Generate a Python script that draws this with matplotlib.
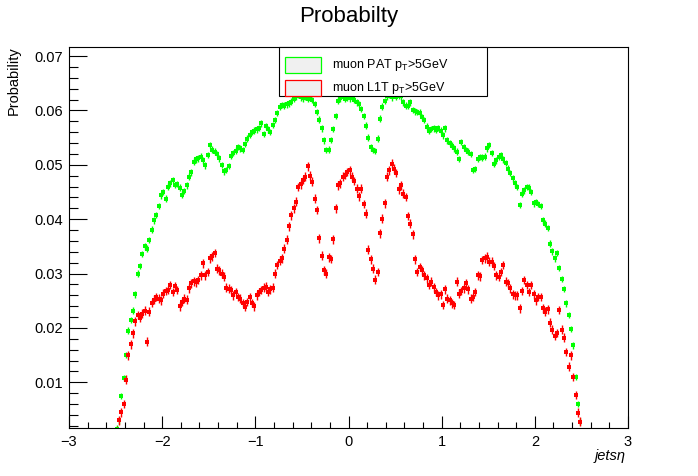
import numpy as np
import matplotlib
matplotlib.use("Agg")
import matplotlib.pyplot as plt
from matplotlib.patches import Rectangle
from matplotlib.ticker import MultipleLocator

plt.rcParams['font.family'] = ['Liberation Sans', 'DejaVu Sans']
plt.rcParams['mathtext.fontset'] = 'custom'
plt.rcParams['mathtext.rm'] = 'Liberation Sans'
plt.rcParams['mathtext.it'] = 'Liberation Sans:italic'

# histogram binning: 200 bins of 0.025 from -2.5 to 2.5
eta_lo = -2.5
eta_hi = 2.5
n_bins = 200

# muon PAT pT>5GeV (green)
pat_prob = [
    0.0015, 0.0030, 0.0075, 0.0108, 0.0150, 0.0195, 0.0215, 0.0232, 0.0262, 0.0300,
    0.0314, 0.0336, 0.0350, 0.0346, 0.0362, 0.0381, 0.0398, 0.0408, 0.0424, 0.0444,
    0.0450, 0.0438, 0.0460, 0.0466, 0.0472, 0.0463, 0.0465, 0.0458, 0.0445, 0.0452,
    0.0462, 0.0478, 0.0486, 0.0506, 0.0510, 0.0512, 0.0515, 0.0508, 0.0499, 0.0518,
    0.0536, 0.0528, 0.0524, 0.0520, 0.0512, 0.0500, 0.0488, 0.0490, 0.0498, 0.0516,
    0.0522, 0.0526, 0.0533, 0.0530, 0.0527, 0.0538, 0.0548, 0.0555, 0.0560, 0.0563,
    0.0565, 0.0568, 0.0576, 0.0557, 0.0571, 0.0565, 0.0560, 0.0573, 0.0582, 0.0595,
    0.0607, 0.0610, 0.0609, 0.0611, 0.0613, 0.0616, 0.0621, 0.0626, 0.0628, 0.0624,
    0.0622, 0.0626, 0.0621, 0.0623, 0.0619, 0.0612, 0.0597, 0.0583, 0.0567, 0.0545,
    0.0527, 0.0528, 0.0546, 0.0566, 0.0590, 0.0618, 0.0622, 0.0625, 0.0621, 0.0624,
    0.0622, 0.0625, 0.0620, 0.0615, 0.0612, 0.0603, 0.0590, 0.0572, 0.0550, 0.0532,
    0.0527, 0.0525, 0.0548, 0.0585, 0.0607, 0.0617, 0.0626, 0.0628, 0.0624, 0.0628,
    0.0625, 0.0627, 0.0626, 0.0615, 0.0609, 0.0608, 0.0615, 0.0601, 0.0598, 0.0597,
    0.0596, 0.0588, 0.0582, 0.0570, 0.0563, 0.0566, 0.0567, 0.0564, 0.0568, 0.0563,
    0.0554, 0.0567, 0.0545, 0.0540, 0.0535, 0.0530, 0.0524, 0.0511, 0.0542, 0.0533,
    0.0527, 0.0524, 0.0520, 0.0490, 0.0492, 0.0511, 0.0514, 0.0513, 0.0515, 0.0530,
    0.0536, 0.0522, 0.0502, 0.0508, 0.0514, 0.0518, 0.0510, 0.0503, 0.0493, 0.0485,
    0.0475, 0.0466, 0.0459, 0.0426, 0.0447, 0.0453, 0.0459, 0.0458, 0.0450, 0.0429,
    0.0432, 0.0428, 0.0424, 0.0398, 0.0392, 0.0384, 0.0355, 0.0341, 0.0328, 0.0338,
    0.0310, 0.0290, 0.0272, 0.0245, 0.0224, 0.0198, 0.0168, 0.0110, 0.0060, 0.0028,
]

# muon L1T pT>5GeV (red)
l1t_prob = [
    0.0012, 0.0030, 0.0045, 0.0060, 0.0105, 0.0150, 0.0170, 0.0190, 0.0212, 0.0224,
    0.0219, 0.0226, 0.0232, 0.0175, 0.0230, 0.0246, 0.0252, 0.0257, 0.0254, 0.0251,
    0.0263, 0.0268, 0.0270, 0.0279, 0.0266, 0.0277, 0.0270, 0.0240, 0.0248, 0.0254,
    0.0252, 0.0273, 0.0282, 0.0286, 0.0284, 0.0288, 0.0297, 0.0319, 0.0297, 0.0303,
    0.0328, 0.0332, 0.0338, 0.0309, 0.0306, 0.0300, 0.0294, 0.0274, 0.0272, 0.0270,
    0.0260, 0.0266, 0.0257, 0.0254, 0.0246, 0.0239, 0.0248, 0.0257, 0.0246, 0.0240,
    0.0260, 0.0266, 0.0270, 0.0274, 0.0276, 0.0266, 0.0271, 0.0274, 0.0300, 0.0316,
    0.0324, 0.0328, 0.0346, 0.0362, 0.0387, 0.0407, 0.0420, 0.0432, 0.0459, 0.0464,
    0.0472, 0.0478, 0.0497, 0.0480, 0.0469, 0.0438, 0.0417, 0.0365, 0.0333, 0.0306,
    0.0300, 0.0330, 0.0327, 0.0363, 0.0420, 0.0462, 0.0466, 0.0478, 0.0481, 0.0487,
    0.0490, 0.0478, 0.0470, 0.0456, 0.0442, 0.0456, 0.0428, 0.0410, 0.0344, 0.0326,
    0.0309, 0.0289, 0.0303, 0.0374, 0.0401, 0.0429, 0.0478, 0.0490, 0.0502, 0.0493,
    0.0485, 0.0455, 0.0462, 0.0447, 0.0441, 0.0406, 0.0392, 0.0372, 0.0326, 0.0303,
    0.0312, 0.0306, 0.0297, 0.0291, 0.0279, 0.0285, 0.0275, 0.0266, 0.0260, 0.0262,
    0.0242, 0.0271, 0.0254, 0.0251, 0.0245, 0.0242, 0.0285, 0.0263, 0.0268, 0.0273,
    0.0282, 0.0271, 0.0254, 0.0257, 0.0266, 0.0297, 0.0295, 0.0325, 0.0328, 0.0331,
    0.0322, 0.0322, 0.0314, 0.0297, 0.0294, 0.0303, 0.0316, 0.0285, 0.0282, 0.0273,
    0.0262, 0.0260, 0.0260, 0.0236, 0.0268, 0.0288, 0.0279, 0.0266, 0.0279, 0.0262,
    0.0251, 0.0257, 0.0257, 0.0236, 0.0230, 0.0234, 0.0210, 0.0197, 0.0185, 0.0191,
    0.0233, 0.0197, 0.0182, 0.0156, 0.0129, 0.0150, 0.0110, 0.0077, 0.0044, 0.0028,
]

pat_err = 0.0006
l1t_err = 0.0008

legend_labels = [r'muon PAT $\mathrm{p_{T}}$>5GeV', r'muon L1T $\mathrm{p_{T}}$>5GeV']

edges = np.linspace(eta_lo, eta_hi, n_bins + 1)
centers = 0.5 * (edges[:-1] + edges[1:])

fig = plt.figure(figsize=(6.98, 4.76), dpi=100)
ax = fig.add_axes([0.0989, 0.1002, 0.8008, 0.8004])

ax.errorbar(centers, pat_prob, yerr=pat_err, fmt='s', ms=3.0, mew=0,
            color='#00ff00', ecolor='#00ff00', elinewidth=1.0, capsize=2.3, capthick=1.0)
ax.errorbar(centers, l1t_prob, yerr=l1t_err, fmt='s', ms=3.0, mew=0,
            color='#ff0000', ecolor='#ff0000', elinewidth=1.0, capsize=2.3, capthick=1.0)

ax.set_xlim(-3, 3)
ax.set_ylim(0.00155, 0.0716)

ax.xaxis.set_major_locator(MultipleLocator(1))
ax.xaxis.set_minor_locator(MultipleLocator(0.2))
ax.yaxis.set_major_locator(MultipleLocator(0.01))
ax.yaxis.set_minor_locator(MultipleLocator(0.002))
ax.set_yticks([0.01, 0.02, 0.03, 0.04, 0.05, 0.06, 0.07])
ax.set_yticklabels(['0.01', '0.02', '0.03', '0.04', '0.05', '0.06', '0.07'])

ax.tick_params(axis='x', which='major', direction='in', length=8.5, width=0.8,
               labelsize=10.5, pad=5, top=False)
ax.tick_params(axis='x', which='minor', direction='in', length=4.2, width=0.8, top=False)
ax.tick_params(axis='y', which='major', direction='in', length=12.7, width=0.8,
               labelsize=10.5, pad=4, right=False)
ax.tick_params(axis='y', which='minor', direction='in', length=6.6, width=0.8, right=False)
for s in ax.spines.values():
    s.set_linewidth(0.8)

# legend box drawn by hand, as in ROOT TLegend
ax.add_patch(Rectangle((0.3757, 0.8735), 0.3726, 0.1265, transform=ax.transAxes,
                       facecolor='white', edgecolor='black', lw=0.8, zorder=5, clip_on=False))
leg_colors = ['#00ff00', '#ff0000']
leg_y = [0.9525, 0.8925]
for lab, col, yy in zip(legend_labels, leg_colors, leg_y):
    ax.add_patch(Rectangle((0.3864, yy - 0.021), 0.0637, 0.042, transform=ax.transAxes,
                           facecolor='#f0f0f0', edgecolor=col, lw=0.9, zorder=6))
    ax.text(0.4700, yy, lab, transform=ax.transAxes, fontsize=9, va='center',
            ha='left', zorder=7)

fig.text(0.5, 0.965, 'Probabilty', ha='center', va='center', fontsize=16)
fig.text(0.020, 0.902, 'Probability', rotation=90, ha='center', va='top', fontsize=10.5)
fig.text(0.897, 0.043, 'jets\u03b7', ha='right', va='center', fontsize=10.5, style='italic')

fig.savefig('out.png', dpi=100)
